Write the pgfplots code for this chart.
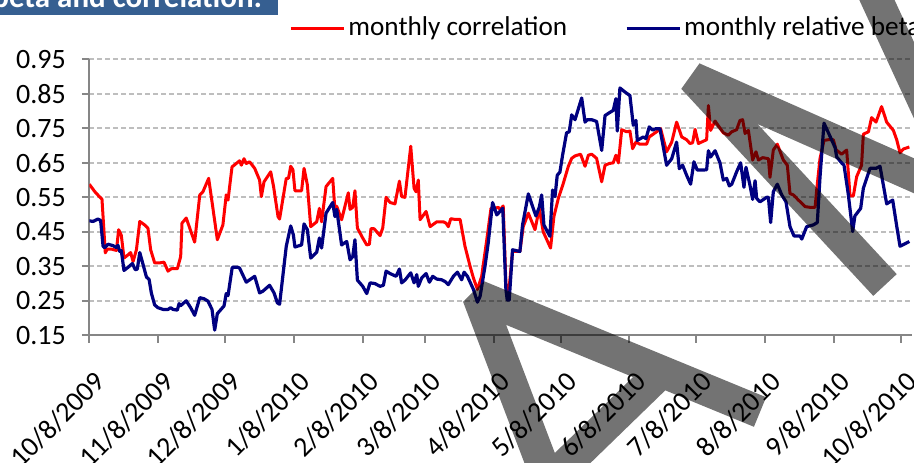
\documentclass[border=0pt]{standalone}
\usepackage{pgfplots}
\pgfplotsset{compat=1.18}
\usepackage{fontspec}
\setmainfont{Carlito}
\definecolor{axgray}{RGB}{134,134,134}
\definecolor{gridgray}{RGB}{190,190,190}
\definecolor{titleblue}{RGB}{54,95,145}
\definecolor{navyline}{RGB}{0,0,128}
\begin{document}
\begin{tikzpicture}
\fill[titleblue] (0pt,223.5pt) rectangle (139pt,240pt);
\node[anchor=base west, inner sep=0pt, text=white, font=\fontsize{15.5}{18}\selectfont\bfseries] at (-4pt,227.2pt) {beta and correlation:};
\begin{axis}[
  at={(44.65pt,63.35pt)}, anchor=south west,
  scale only axis, width=411.25pt, height=138pt,
  xmin=0, xmax=370, ymin=0.15, ymax=0.95,
  axis lines*=left,
  axis line style={draw=axgray, line width=1pt},
  tick style={draw=axgray, line width=1pt},
  major tick length=3.75pt, tick align=outside,
  xtick={0,31,61,92,123,151,182,212,243,273,304,335,365},
  xticklabels={10/8/2009,11/8/2009,12/8/2009,1/8/2010,2/8/2010,3/8/2010,4/8/2010,5/8/2010,6/8/2010,7/8/2010,8/8/2010,9/8/2010,10/8/2010},
  ytick={0.15,0.25,0.35,0.45,0.55,0.65,0.75,0.85,0.95},
  yticklabels={0.15,0.25,0.35,0.45,0.55,0.65,0.75,0.85,0.95},
  /pgf/number format/assume math mode=true,
  ymajorgrids,
  grid style={draw=gridgray, line width=0.9pt, dash pattern=on 2.5pt off 1.5pt},
  ticklabel style={font=\fontsize{14}{16}\selectfont},
  xticklabel style={rotate=45, anchor=east, xshift=-4.5pt, yshift=-16pt},
  yticklabel style={anchor=east, xshift=-4.5pt},
  legend style={at={(0.2428,1.1134)}, anchor=west, draw=none, fill=none,
    legend columns=2, font=\fontsize{13.6}{15}\selectfont,
    /tikz/every even column/.append style={column sep=27.5pt},
    inner sep=0pt, nodes={inner sep=1.5pt}},
  legend image code/.code={\draw[#1, line width=1.5pt] (0pt,0pt) -- (26.5pt,0pt);},
]
\addplot[red, line width=1.5pt, line join=round] coordinates {
(0,0.588) (2.4,0.567) (5.1,0.548) (5.7,0.545) (7.2,0.389) (8.1,0.400) (9.9,0.400) (12.2,0.396) (13.2,0.456) (14.4,0.440)
(15.6,0.374) (17.4,0.383) (18.6,0.390) (19.7,0.364) (21.2,0.398) (22.7,0.480) (24.9,0.470) (26.4,0.460) (27.6,0.398) (29.4,0.360)
(31.7,0.360) (33.6,0.362) (35.4,0.336) (36.9,0.343) (39.6,0.343) (41.1,0.378) (41.7,0.475) (43.6,0.490) (47.4,0.420) (49.7,0.557)
(51.1,0.566) (53.7,0.605) (55.2,0.537) (57.6,0.427) (60.1,0.470) (61.6,0.557) (62.4,0.542) (64.2,0.638) (66.1,0.648) (67.6,0.656)
(68.4,0.643) (69.6,0.662) (70.6,0.648) (72.1,0.653) (74.4,0.634) (76.6,0.600) (77.4,0.552) (78.6,0.595) (81.6,0.624) (82.9,0.581)
(84.9,0.494) (85.6,0.487) (88.6,0.605) (89.6,0.605) (90.6,0.640) (91.6,0.630) (92.5,0.569) (95.5,0.569) (96.6,0.634) (98.1,0.586)
(99.6,0.465) (102.3,0.479) (103.5,0.518) (104.5,0.479) (106.5,0.581) (109.5,0.605) (110.5,0.513) (111.3,0.524) (113.5,0.485) (116.5,0.563)
(117.3,0.515) (118.5,0.521) (119.5,0.569) (120.6,0.461) (123.0,0.432) (124.8,0.412) (126.0,0.414) (126.7,0.459) (128.1,0.459) (130.8,0.439)
(132.0,0.461) (133.5,0.550) (135.3,0.535) (137.5,0.531) (139.5,0.597) (140.5,0.552) (142.0,0.550) (144.6,0.698) (146.1,0.576) (147.0,0.566)
(148.0,0.600) (148.8,0.485) (151.5,0.509) (153.3,0.465) (156.3,0.479) (159.3,0.479) (160.5,0.475) (161.5,0.465) (162.6,0.488) (164.5,0.486)
(166.8,0.486) (169.0,0.408) (171.3,0.350) (172.8,0.316) (174.6,0.283) (176.5,0.321) (178.8,0.427) (180.7,0.518) (182.5,0.518) (184.0,0.521)
(184.8,0.514) (186.2,0.525) (187.4,0.300) (188.0,0.281) (188.9,0.290) (190.4,0.393) (193.7,0.393) (195.2,0.465) (197.5,0.504) (200.5,0.456)
(202.4,0.518) (204.2,0.450) (207.5,0.403) (209.0,0.494) (211.0,0.547) (213.2,0.590) (215.5,0.640) (217.0,0.663) (218.5,0.670) (221.0,0.675)
(223.0,0.640) (224.5,0.672) (226.0,0.675) (228.2,0.663) (230.5,0.595) (232.0,0.643) (233.9,0.648) (235.7,0.650) (236.9,0.672) (238.0,0.650)
(239.5,0.746) (241.7,0.740) (243.2,0.742) (244.4,0.691) (245.9,0.710) (247.7,0.704) (250.7,0.704) (251.9,0.725) (255.2,0.740) (257.0,0.749)
(259.7,0.682) (262.0,0.710) (264.2,0.768) (266.5,0.725) (268.7,0.717) (270.2,0.706) (271.4,0.708) (272.5,0.747) (274.0,0.706) (277.7,0.717)
(278.5,0.816) (279.5,0.744) (281.5,0.771) (285.2,0.737) (287.5,0.730) (289.0,0.740) (291.2,0.746) (292.7,0.773) (293.9,0.775) (295.0,0.735)
(296.5,0.744) (298.4,0.658) (299.9,0.682) (301.0,0.658) (302.9,0.665) (305.5,0.662) (306.2,0.608) (307.7,0.687) (309.5,0.704) (312.2,0.658)
(314.0,0.643) (315.2,0.561) (316.7,0.557) (319.0,0.542) (322.0,0.523) (324.2,0.521) (326.5,0.521) (327.2,0.571) (328.7,0.662) (330.5,0.715)
(332.4,0.717) (334.7,0.717) (335.9,0.688) (338.4,0.675) (340.7,0.687) (342.2,0.554) (343.7,0.554) (345.2,0.610) (347.4,0.643) (348.2,0.733)
(350.5,0.740) (351.9,0.781) (353.9,0.768) (356.4,0.813) (358.7,0.768) (361.7,0.744) (363.2,0.717) (364.7,0.679) (366.2,0.690) (368.9,0.696)
};
\addlegendentry{monthly correlation}
\addplot[navyline, line width=1.6pt, line join=round] coordinates {
(0,0.482) (1.7,0.480) (3.9,0.487) (5.1,0.483) (6.2,0.408) (6.9,0.404) (8.4,0.414) (10.7,0.410) (12.2,0.404) (12.9,0.411)
(13.7,0.393) (14.4,0.396) (15.6,0.338) (17.4,0.347) (19.4,0.358) (20.7,0.340) (21.6,0.342) (22.7,0.390) (24.2,0.355) (25.7,0.319)
(26.9,0.312) (27.9,0.273) (29.4,0.238) (30.9,0.230) (33.2,0.225) (35.4,0.225) (36.6,0.230) (37.7,0.225) (39.6,0.223) (40.4,0.242)
(41.1,0.236) (43.6,0.250) (45.6,0.230) (47.4,0.208) (49.7,0.259) (51.6,0.256) (53.4,0.249) (55.2,0.225) (56.4,0.165) (57.6,0.213)
(60.6,0.235) (61.6,0.271) (62.4,0.265) (64.3,0.347) (66.9,0.347) (67.6,0.345) (70.6,0.304) (74.4,0.321) (76.6,0.273) (78.1,0.278)
(81.1,0.295) (83.1,0.273) (84.6,0.244) (85.6,0.240) (88.6,0.408) (90.6,0.467) (91.8,0.441) (92.5,0.406) (95.5,0.412) (96.6,0.473)
(98.1,0.456) (99.6,0.374) (102.3,0.391) (103.5,0.432) (104.5,0.403) (106.5,0.504) (109.5,0.535) (110.5,0.494) (111.3,0.515) (113.5,0.412)
(115.8,0.422) (117.3,0.369) (118.5,0.378) (119.5,0.427) (120.6,0.310) (123.0,0.292) (124.8,0.271) (126.3,0.302) (128.5,0.300) (130.8,0.292)
(132.3,0.295) (133.5,0.336) (135.3,0.329) (138.0,0.321) (139.5,0.342) (140.5,0.302) (142.0,0.310) (144.6,0.331) (146.1,0.302) (147.3,0.326)
(148.0,0.292) (149.5,0.316) (151.5,0.329) (153.0,0.304) (154.5,0.321) (156.3,0.313) (158.5,0.311) (160.0,0.306) (161.5,0.297) (163.8,0.321)
(165.6,0.333) (167.5,0.311) (168.6,0.333) (170.1,0.321) (172.8,0.283) (174.6,0.246) (175.8,0.263) (178.0,0.350) (179.5,0.420) (181.4,0.535)
(183.3,0.499) (186.0,0.518) (187.4,0.283) (188.0,0.252) (188.9,0.252) (190.4,0.398) (193.7,0.393) (194.9,0.470) (197.5,0.560) (199.7,0.518)
(200.9,0.496) (202.4,0.521) (203.5,0.557) (204.5,0.470) (207.2,0.437) (208.4,0.571) (209.5,0.552) (210.5,0.614) (211.7,0.623) (212.9,0.672)
(214.7,0.737) (215.9,0.740) (217.0,0.789) (218.5,0.775) (221.5,0.838) (223.0,0.768) (224.0,0.775) (226.0,0.775) (228.2,0.770) (230.5,0.686)
(232.0,0.787) (233.9,0.795) (235.7,0.802) (236.9,0.836) (237.5,0.742) (238.7,0.867) (241.0,0.855) (243.2,0.845) (244.7,0.759) (245.9,0.773)
(246.5,0.715) (249.2,0.725) (250.4,0.720) (251.9,0.754) (253.4,0.745) (254.9,0.749) (256.7,0.749) (258.2,0.696) (259.7,0.643) (262.0,0.662)
(264.2,0.710) (265.4,0.633) (266.9,0.643) (268.7,0.614) (270.5,0.588) (272.0,0.653) (273.5,0.629) (276.2,0.629) (277.7,0.630) (278.5,0.685)
(279.5,0.667) (281.5,0.685) (283.7,0.650) (285.2,0.600) (286.7,0.605) (287.9,0.583) (289.0,0.588) (291.2,0.624) (293.0,0.650) (294.5,0.579)
(295.4,0.637) (297.2,0.585) (298.4,0.544) (299.5,0.598) (300.2,0.547) (301.7,0.537) (304.7,0.550) (305.5,0.550) (306.5,0.477) (307.7,0.566)
(309.5,0.588) (311.5,0.557) (313.4,0.537) (315.2,0.465) (317.0,0.438) (319.7,0.438) (320.5,0.429) (322.7,0.465) (325.7,0.470) (327.5,0.477)
(328.7,0.608) (330.5,0.765) (333.2,0.727) (335.5,0.694) (336.2,0.667) (338.4,0.650) (339.5,0.643) (341.4,0.560) (343.4,0.451) (344.4,0.496)
(347.0,0.518) (348.2,0.576) (351.2,0.634) (353.9,0.634) (355.7,0.640) (358.7,0.531) (361.4,0.542) (363.2,0.467) (364.7,0.408) (368.9,0.422)
};
\addlegendentry{monthly relative beta}
\end{axis}
\begin{scope}[x=0.5pt, y=-0.5pt, shift={(0pt,231pt)}]
\draw[black, opacity=0.55, line width=16pt, line join=bevel, line cap=butt]
  (548,480) -- (478,296) -- (760,412)
  (552,478) -- (655,378)
  (885,285) -- (693,78) -- (980,205)
  (870,-15) -- (960,180);
\end{scope}
\pgfresetboundingbox
\useasboundingbox (0pt,0pt) rectangle (457pt,231pt);
\end{tikzpicture}
\end{document}
